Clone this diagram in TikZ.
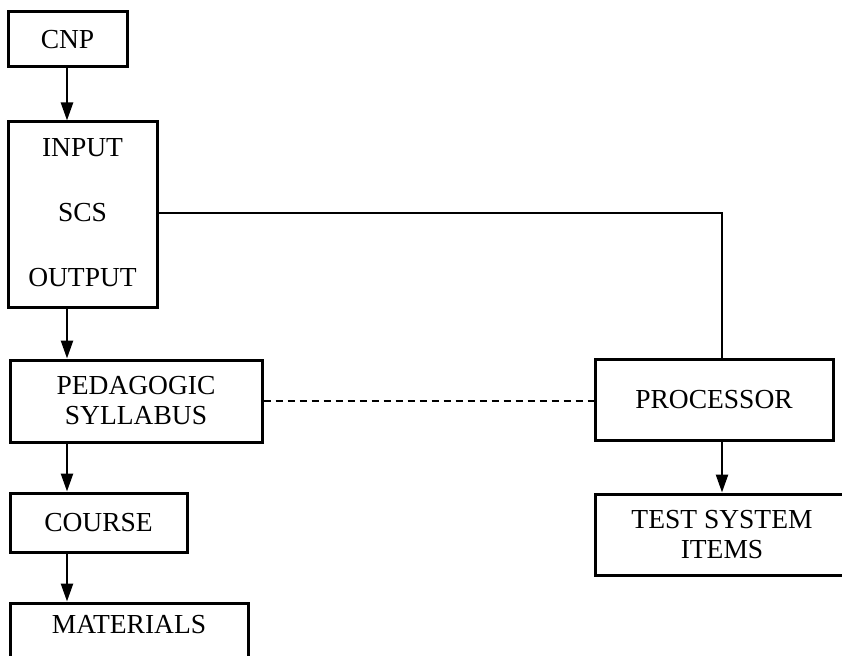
\documentclass[tikz,border=0pt]{standalone}
\usepackage{fontspec}
\setmainfont{Liberation Serif}
\usetikzlibrary{arrows.meta}
\begin{document}
\begin{tikzpicture}[x=1pt,y=-1pt,
  box/.style={draw, line width=3pt, rectangle, inner sep=0pt, align=center,
    font=\fontsize{27.5}{30}\selectfont},
  lbl/.style={inner sep=0pt, font=\fontsize{27.5}{30}\selectfont},
  conn/.style={line width=2.5pt},
  arr/.style={line width=2.5pt, -{Triangle[length=18pt,width=12pt]}},
  dsh/.style={line width=1.4pt, dash pattern=on 7pt off 5pt}]
\useasboundingbox (0,0) rectangle (842,655);
\clip (0,0) rectangle (842,655);
\node[box, minimum width=119pt, minimum height=55pt] (cnp) at (67.5,39.5) {CNP};
\node[box, minimum width=149pt, minimum height=185pt] (sbox) at (82.5,214.5) {};
\node[lbl] (inp) at (82.5,148) {INPUT};
\node[lbl] (scs) at (82.5,213) {SCS};
\node[lbl] (outp) at (82.5,278) {OUTPUT};
\node[box, minimum width=252pt, minimum height=82pt] (ped) at (136,401) {PEDAGOGIC\\SYLLABUS};
\node[box, minimum width=177pt, minimum height=59pt] (course) at (98.5,522.5) {COURSE};
\node[box, minimum width=238pt, minimum height=60pt] (mat) at (129,633) {};
\node[lbl] (matt) at (129,625) {MATERIALS};
\node[box, minimum width=238pt, minimum height=81pt] (proc) at (714,399.5) {PROCESSOR};
\node[box, minimum width=254pt, minimum height=81pt] (test) at (722,534.5) {TEST SYSTEM\\ITEMS};
\coordinate (pn) at ([xshift=8pt]proc.north);
\draw[arr] (cnp.south -| 67,0) -- (sbox.north -| 67,0);
\draw[arr] (sbox.south -| 67,0) -- (ped.north -| 67,0);
\draw[arr] (ped.south -| 67,0) -- (course.north -| 67,0);
\draw[arr] (course.south -| 67,0) -- (mat.north -| 67,0);
\draw[conn] (sbox.east |- scs.center) -| (pn);
\draw[dsh] (ped.east) -- (proc.west |- ped.east);
\draw[arr] (test.north |- proc.south) -- (test.north);
\end{tikzpicture}
\end{document}
